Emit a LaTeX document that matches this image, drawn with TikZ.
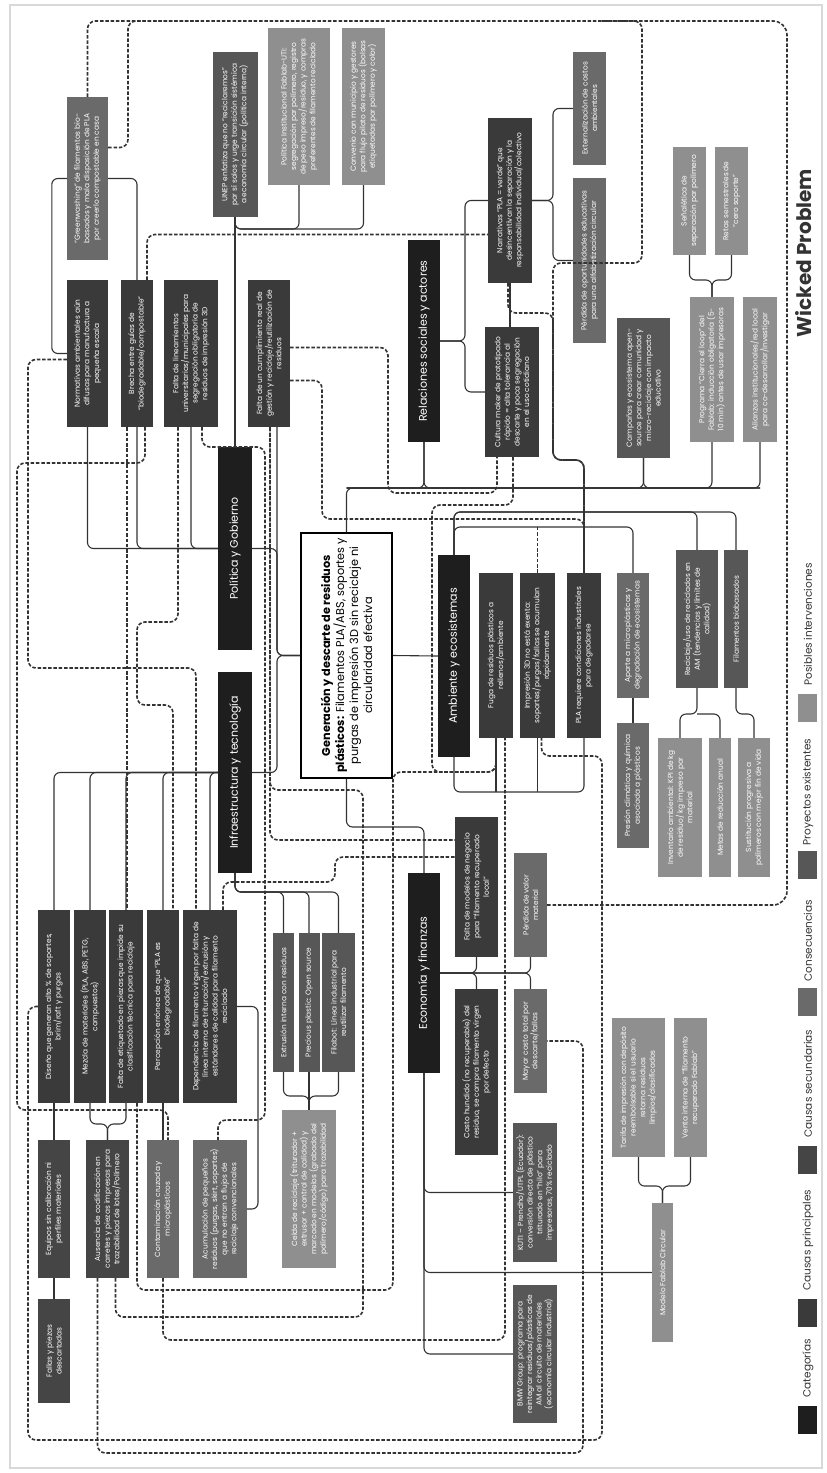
\documentclass[tikz,border=0pt]{standalone}
\usepackage{fontspec}
\setmainfont{Poppins}
\usetikzlibrary{positioning}

\definecolor{catfill}{HTML}{1E1E1E}
\definecolor{causefill}{HTML}{3A3A3A}
\definecolor{secfill}{HTML}{454545}
\definecolor{confill}{HTML}{6A6A6A}
\definecolor{projfill}{HTML}{575757}
\definecolor{intfill}{HTML}{8F8F8F}
\definecolor{wire}{HTML}{333333}

\tikzset{
  box/.style={rotate=90, inner sep=1pt, align=center, text=white,
              font=\fontsize{7.4}{9.6}\selectfont},
  wh/.style 2 args={minimum width=#1pt, minimum height=#2pt},
  catbox/.style={box, fill=catfill, font=\fontsize{11}{13}\selectfont},
  causebox/.style={box, fill=causefill},
  secbox/.style={box, fill=secfill},
  conbox/.style={box, fill=confill},
  projbox/.style={box, fill=projfill},
  intbox/.style={box, fill=intfill},
  probbox/.style={rotate=90, draw=black, line width=1.8pt, fill=white,
                  align=center, inner sep=2pt, font=\fontsize{11.3}{14}\selectfont},
  link/.style={draw=wire, line width=1.1pt, rounded corners=6pt},
  dlink/.style={draw=wire, line width=1.6pt, dash pattern=on 3.5pt off 1.8pt,
                rounded corners=8pt},
  legsq/.style={minimum width=19pt, minimum height=28pt, inner sep=0pt},
  legtext/.style={rotate=90, anchor=west, text=wire, font=\fontsize{10.5}{12}\selectfont}
}

\begin{document}
\begin{tikzpicture}[x=1pt, y=-1pt]
  \useasboundingbox (0,0) rectangle (827,1473);
  \draw[black!15, line width=1.5pt] (10,5) rectangle (822,1468);

  % categorias y problema central
  \node[probbox, wh={245}{91}] (prob) at (346.5,655.5)
    {\textbf{Generación y descarte de residuos}\\ \textbf{plásticos:} Filamentos PLA/ABS, soportes y\\
     purgas de impresión 3D sin reciclaje ni\\ circularidad efectiva};
  \node[catbox, wh={203}{34}] (pol) at (235,548.5) {Política y Gobierno};
  \node[catbox, wh={201}{34}] (inf) at (235,772.5) {Infraestructura y tecnología};
  \node[catbox, wh={202}{32}] (rel) at (424,341) {Relaciones sociales y actores};
  \node[catbox, wh={202}{32}] (amb) at (454,656) {Ambiente y ecosistemas};
  \node[catbox, wh={200}{32}] (eco) at (424,973) {Economía y finanzas};

  % politica
  \node[conbox, wh={163}{41}] (green) at (87.5,178.5)
    {“Greenwashing” de filamentos bio-\\ basados y mala disposición de PLA\\ por creerlo compostable en casa};
  \node[projbox, wh={165}{45}] (unep) at (235,134.5)
    {UNEP enfatiza que no “reciclaremos”\\ por sí solos y urge transición sistémica\\ a economía circular (política interna)};
  \node[intbox, wh={157}{62}] (polinst) at (299,106.5)
    {Política Institucional Fablab-UTI:\\ segregación por polímero, registro\\ de peso impreso/residuo, y compras\\ preferentes de filamento reciclado};
  \node[intbox, wh={157}{43}] (conv) at (363.5,106.5)
    {Convenio con municipio y gestores\\ para flujo piloto de residuos (bolsas\\ etiquetadas por polímero y color)};
  \node[causebox, wh={147}{41}] (norm) at (87.5,353.5)
    {Normativas ambientales aún\\ difusas para manufactura a\\ pequeña escala};
  \node[causebox, wh={147}{32}] (brecha) at (137,353.5)
    {Brecha entre guías de\\ “biodegradable/compostable”};
  \node[causebox, wh={147}{54}] (faltalin) at (191,353.5)
    {Falta de lineamientos\\ universitarios/municipales para\\ segregación obligatoria de\\ residuos de impresión 3D};
  \node[causebox, wh={147}{42}] (faltacum) at (269,353.5)
    {Falta de un cumplimiento real de\\ gestión y reciclaje/reutilización de\\ residuos};

  % relaciones sociales
  \node[causebox, wh={165}{44}] (narr) at (510,200.5)
    {Narrativas “PLA = verde” que\\ desincentivan la separación y la\\ responsabilidad individual/colectivo};
  \node[causebox, wh={130}{54}] (cult) at (512,392)
    {Cultura maker de prototipado\\ rápido = alta tolerancia al\\ descarte y poca segregación\\ en el uso cotidiano};
  \node[conbox, wh={113}{33}] (ext) at (589.5,108.5) {Externalización de costos\\ ambientales};
  \node[conbox, wh={165}{33}] (perd) at (589.5,260.5)
    {Pérdida de oportunidades educativas\\ para una alfabetización circular};
  \node[projbox, wh={140}{53}] (camp) at (643.5,388)
    {Campañas y ecosistema open-\\ source para crear comunidad y\\ micro-reciclaje con impacto\\ educativo};
  \node[intbox, wh={145}{44}] (prog) at (712,369.5)
    {Programa “Cierra el loop” del\\ Fablab: inducción obligatoria (5-\\ 10 min) antes de usar impresoras};
  \node[intbox, wh={145}{34}] (alian) at (760,369.5)
    {Alianzas institucionales/red local\\ para co-desarrollar/investigar};
  \node[intbox, wh={108}{33}] (senal) at (689.5,201) {Señalética de\\ separación por polímero};
  \node[intbox, wh={108}{33}] (retos) at (731.5,201) {Retos semestrales de\\ “cero soporte”};

  % ambiente
  \node[causebox, wh={165}{34}] (fuga) at (496,655.5) {Fuga de residuos plásticos a\\ rellenos/ambiente};
  \node[causebox, wh={165}{35}] (imp3d) at (537.5,655.5)
    {Impresión 3D no está exenta:\\ soportes/purgas/fallas se acumulan\\ rápidamente};
  \node[causebox, wh={165}{34}] (plareq) at (584,655.5)
    {PLA requiere condiciones industriales\\ para degradarse};
  \node[conbox, wh={125}{32}] (aporte) at (633,635.5) {Aporte a microplásticos y\\ degradación de ecosistemas};
  \node[conbox, wh={125}{32}] (presion) at (633,785.5) {Presión climática y química\\ asociada a plásticos};
  \node[projbox, wh={138}{42}] (recic) at (697,619)
    {Reciclaje/uso de reciclados en\\ AM (tendencias y límites de\\ calidad)};
  \node[projbox, wh={138}{24}] (bioba) at (736,619) {Filamentos biobasados};
  \node[intbox, wh={139}{44}] (invent) at (680,807.5)
    {Inventario ambiental: KPI de kg\\ de residuo/ kg impreso por\\ material};
  \node[intbox, wh={139}{22}] (metas) at (720,807.5) {Metas de reducción anual};
  \node[intbox, wh={139}{32}] (sust) at (754,807.5) {Sustitución progresiva a\\ polímeros con mejor fin de vida};

  % infraestructura
  \node[causebox, wh={193}{32}] (diseno) at (54,1006.5)
    {Diseño que generan alto \% de soportes,\\ brim/raft y purgas};
  \node[causebox, wh={193}{32}] (mezcla) at (90,1006.5)
    {Mezcla de materiales (PLA, ABS, PETG,\\ compuestos)};
  \node[causebox, wh={193}{34}] (etiq) at (126,1006.5)
    {Falta de etiquetado en piezas que impide su\\ clasificación técnica para reciclaje};
  \node[causebox, wh={193}{32}] (percep) at (163,1006.5)
    {Percepción errónea de que “PLA es\\ biodegradable”};
  \node[causebox, wh={193}{54}] (depend) at (210,1006.5)
    {Dependencia de filamento virgen por falta de\\ línea interna de trituración/extrusión y\\ estándares de calidad para filamento\\ reciclado};
  \node[secbox, wh={138}{32}] (equipos) at (54,1209) {Equipos sin calibración ni\\ perfiles materiales};
  \node[secbox, wh={104}{32}] (fallas) at (54,1351) {Fallas y piezas\\ descartadas};
  \node[secbox, wh={138}{43}] (ausencia) at (107.5,1209)
    {Ausencia de codificación en\\ carretes y piezas impresas para\\ trazabilidad de lotes/Polímero};
  \node[conbox, wh={138}{32}] (contam) at (163,1209) {Contaminación cruzada y\\ microplásticos};
  \node[conbox, wh={138}{54}] (acum) at (220,1209)
    {Acumulación de pequeños\\ residuos (purgas, skirt, soportes)\\ que no entran a flujos de\\ reciclaje convencionales};
  \node[projbox, wh={139}{21}] (extru) at (283.5,1002.5) {Extrusión interna con residuos};
  \node[projbox, wh={139}{21}] (precious) at (309,1002.5) {Precious plastic: Open source};
  \node[projbox, wh={139}{33}] (filabot) at (338.5,1002.5) {Filabot: Línea industrial para\\ reutilizar filamento};
  \node[intbox, wh={158}{54}] (celda) at (309,1189)
    {Celda de reciclaje (triturador +\\ extrusor + control de calidad) y\\ marcado en modelos (grabado del\\ polímero/código) para trazabilidad};

  % economia
  \node[causebox, wh={140}{43}] (faltamod) at (476.5,887)
    {Falta de modelos de negocio\\ para “filamento recuperado\\ local”};
  \node[causebox, wh={166}{43}] (costo) at (476.5,1072)
    {Costo hundido (no recuperable) del\\ residuo, se compra filamento virgen\\ por defecto};
  \node[conbox, wh={104}{33}] (perdval) at (530.5,905) {Pérdida de valor\\ material};
  \node[conbox, wh={104}{33}] (mayor) at (530.5,1041) {Mayor costo total por\\ descarte/fallas};
  \node[projbox, wh={139}{44}] (kuti) at (535,1192.5)
    {KUTI – Prendho/UTPL (Ecuador):\\ conversión directa de plástico\\ triturado en “hilo” para\\ impresoras, 70\% reciclado};
  \node[projbox, wh={138}{44}] (bmw) at (535,1354)
    {BMW Group: programa para\\ reintegrar residuos/plásticos de\\ AM al circuito de materiales\\ (economía circular industrial)};
  \node[intbox, wh={139}{21}] (modelo) at (662.5,1272.5) {Modelo Fablab Circular};
  \node[intbox, wh={139}{53}] (tarifa) at (638.5,1087.5)
    {Tarifa de impresión con depósito\\ reembolsable si el usuario\\ retorna residuos\\ limpios/clasificados};
  \node[intbox, wh={139}{33}] (venta) at (690.5,1087.5) {Venta interna de “filamento\\ recuperado Fablab”};

  % titulo y leyenda
  \node[rotate=90, text=wire, font=\fontsize{20}{24}\selectfont\bfseries] (title) at (804,253) {Wicked Problem};
  \node[legsq, fill=catfill] (lcat) at (807.5,1420) {};
  \node[legtext] (tcat) at (808,1401) {Categorías};
  \node[legsq, fill=causefill] (lcause) at (807.5,1313) {};
  \node[legtext] (tcause) at (808,1294) {Causas principales};
  \node[legsq, fill=secfill] (lsec) at (807.5,1160) {};
  \node[legtext] (tsec) at (808,1141) {Causas secundarias};
  \node[legsq, fill=confill] (lcon) at (807.5,1001.5) {};
  \node[legtext] (tcon) at (808,985) {Consecuencias};
  \node[legsq, fill=projfill] (lproj) at (807.5,865) {};
  \node[legtext] (tproj) at (808,849) {Proyectos existentes};
  \node[legsq, fill=intfill] (lint) at (807.5,708) {};
  \node[legtext] (tint) at (808,689) {Posibles intervenciones};

  % conexiones
  \coordinate (busU) at (0,229);
  \coordinate (busI) at (0,892);
  \coordinate (busA1) at (0,527);
  \coordinate (busA2) at (0,512);
  \coordinate (busA3) at (0,792);
  \coordinate (busR) at (0,488);
  \coordinate (busE) at (0,827);
  \coordinate (jc) at (309,1096);
  \coordinate (ja) at (107.5,1124);
  \coordinate (jr) at (697,714);
  \coordinate (jn) at (465,341);
  \coordinate (jx) at (553,200.5);
  \coordinate (js) at (712,280);
  \coordinate (jm) at (662.5,1186);

  \draw[link] (unep.west) -- (pol.east);
  \draw[link] (unep.west) |- (polinst.west |- busU) -- (polinst.west);
  \draw[link] (unep.west) |- (conv.west |- busU) -- (conv.west);
  \draw[link] (green.north) -- ++(-15,0) |- (norm.north);
  \draw[link] (green.south) -| (brecha.east);
  \draw[link] (norm.west) |- (pol.north);
  \draw[link] (brecha.west) |- (pol.north);
  \draw[link] (faltalin.west) |- (pol.north);
  \draw[link] ([xshift=8pt]faltacum.west) |- (prob.north);
  \draw[link] (pol.south) -| (277,600) |- (prob.north);
  \draw[link] (inf.south) -| (277,700) |- (prob.north);

  \draw[link] (diseno.east) |- (inf.north);
  \draw[link] (mezcla.east) |- (inf.north);
  \draw[link] (etiq.east) |- (inf.north);
  \draw[link] (percep.east) |- (inf.north);
  \draw[link] (depend.east) |- (inf.north);
  \draw[link] (inf.west) |- (extru.east |- busI) -- (extru.east);
  \draw[link] (inf.west) |- (precious.east |- busI) -- (precious.east);
  \draw[link] (inf.west) |- (filabot.east |- busI) -- (filabot.east);
  \draw[link] (extru.west) |- (jc) -- (celda.east);
  \draw[link] (precious.west) -- (celda.east);
  \draw[link] (filabot.west) |- (jc) -- (celda.east);
  \draw[link] (diseno.west) -- (equipos.east);
  \draw[link] (equipos.west) -- (fallas.east);
  \draw[link] (mezcla.west) |- (ja) -- (ausencia.east);
  \draw[link] (etiq.west) |- (ja) -- (ausencia.east);
  \draw[link] (percep.west) -- (contam.east);
  \draw[link] (depend.south) -| (258,1100) |- (acum.south);

  \draw[link] (prob.south) -- (amb.north);
  \draw[link] (amb.east) |- (aporte.east |- busA1) -- (aporte.east);
  \draw[link] (amb.east) |- (recic.east |- busA2) -- (recic.east);
  \draw[link] (amb.east) |- (bioba.east |- busA2) -- (bioba.east);
  \draw[link] (amb.west) |- (plareq.west |- busA3) -- (plareq.west);
  \draw[link] (fuga.west) -- (fuga.west |- busA3);
  \draw[link] (imp3d.west) -- (imp3d.west |- busA3);
  \draw[link] (aporte.west) -- (presion.east);
  \draw[link] (recic.west) -- (jr) -| (invent.east);
  \draw[link] (jr) -| (metas.east);
  \draw[link] (bioba.west) |- (sust.east |- jr) -- (sust.east);

  \draw[link] (prob.east) |- (alian.west |- busR) -- (alian.west);
  \draw[link] (rel.west) |- (prob.east |- busR);
  \draw[link] (rel.west) |- (alian.west |- busR);
  \draw[link] (camp.west) |- (prob.east |- busR);
  \draw[link] (camp.west) |- (alian.west |- busR);
  \draw[link] (prog.west) |- (prob.east |- busR);
  \draw[link] (rel.south) -- (jn) |- (narr.north);
  \draw[link] (rel.south) -- (jn) |- (cult.north);
  \draw[link] (narr.west) -- (narr.west |- cult.east);
  \draw[link] (narr.south) -- (jx) |- (ext.north);
  \draw[link] (narr.south) -- (jx) |- (perd.north);
  \draw[link] (senal.west) |- (js) -- (prog.east);
  \draw[link] (retos.west) |- (js) -- (prog.east);

  \draw[link] (prob.west) |- (eco.east |- busE) -- (eco.east);
  \draw[link] (eco.south) -| (faltamod.west);
  \draw[link] (eco.south) -| (costo.east);
  \draw[link] (eco.south) -| (perdval.west);
  \draw[link] (eco.south) -| (mayor.east);
  \draw[link] (eco.west) |- (kuti.north);
  \draw[link] (eco.west) |- (modelo.north);
  \draw[link] (eco.west) |- (bmw.north);
  \draw[link] (tarifa.west) |- (jm) -- (modelo.east);
  \draw[link] (venta.west) |- (jm) -- (modelo.east);

  % relaciones cruzadas
  \draw[dlink] (green.east) |- (642,21) |- (553,263) |- (584,460) -- (plareq.east);
  \draw[dlink] ([yshift=31pt]green.south) -| (128,21) -- (200,21);
  \draw[dlink, rounded corners=14pt] (perdval.south) -| (787,21) -- (600,21);
  \draw[dlink] ([xshift=-2pt]narr.west) |- (553,313) |- (584,460) -- (plareq.east);
  \draw[dlink] ([yshift=-6pt]norm.north) -| (28,668) -| ([xshift=-14pt]depend.east);
  \draw[dlink] ([xshift=8pt]brecha.west) |- (17,463) -- (17,1110) -| ([xshift=5pt]contam.east);
  \draw[dlink] (diseno.north) -| (28,1440) -| (602,756) -| ([xshift=4pt]imp3d.west);
  \draw[dlink] ([xshift=-10pt]ausencia.west) |- (583,1453) |- (mayor.south);
  \draw[dlink] ([xshift=11pt]etiq.west) |- (393,1290) |- (496,772) -- (fuga.west);
  \draw[dlink] ([xshift=8pt]ausencia.west) |- (363,1317) |- (270,790) -- ([xshift=1pt]faltacum.west);
  \draw[dlink] ([xshift=11pt]faltalin.west) |- (265,447) -- (265,1120) -| ([xshift=-2pt]acum.east);
  \draw[dlink] (contam.west) |- (505,1340) -- ([xshift=9pt]fuga.west);
  \draw[dlink] ([xshift=-13pt]faltalin.west) |- (137,622) |- (173,705) -- ([xshift=10pt]percep.east);
  \draw[dlink] ([xshift=-10pt]brecha.west) -- ([xshift=1pt]etiq.east);
  \draw[dlink] ([xshift=10pt]brecha.east) |- ([yshift=-34pt]narr.north);
  \draw[dlink] ([yshift=6pt]faltacum.south) -| (388,493) -| ([xshift=-15pt]cult.west);
  \draw[dlink] ([yshift=-27pt]faltacum.south) -| (322,519) -| (plareq.east);
  \draw[dlink] ([xshift=1pt]cult.west) |- (432,505) -- (432,772) -| (fuga.west);
  \draw[dlink] ([xshift=13pt]depend.east) |- (335,882) |- ([yshift=30pt]faltamod.north);
  \draw[dlink] ([xshift=1pt]faltacum.west) |- ([yshift=47pt]faltamod.north);
  \draw[dlink] (imp3d.east) -- (imp3d.east |- busA1);
\end{tikzpicture}
\end{document}
